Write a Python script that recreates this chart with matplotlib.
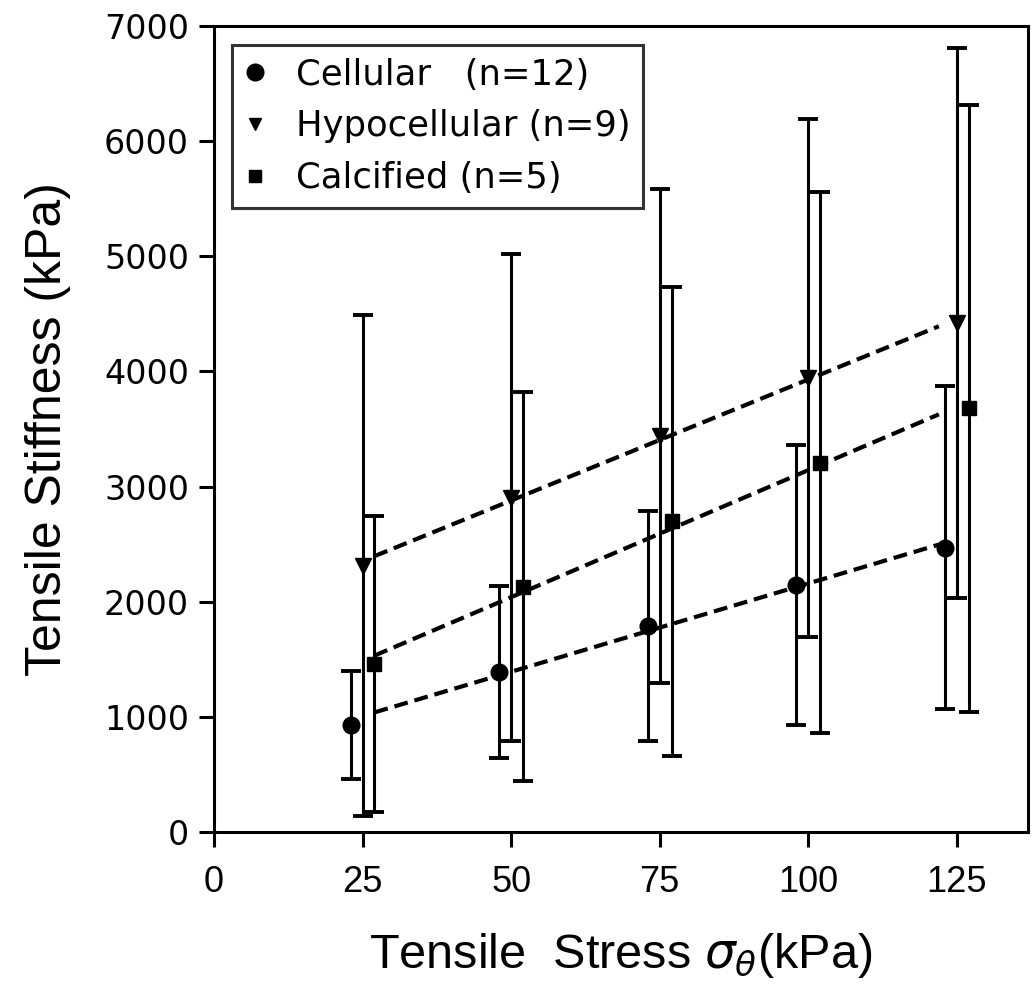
import numpy as np
import matplotlib.pyplot as plt
from matplotlib.lines import Line2D

# tensile stress (kPa) for each group, offset slightly so the bars do not overlap
stress_cellular = [23, 48, 73, 98, 123]
stress_hypo = [25, 50, 75, 100, 125]
stress_calcified = [27, 52, 77, 102, 127]

# tensile stiffness (kPa): mean and standard deviation
stiff_cellular = [930, 1390, 1788, 2145, 2470]
sd_cellular = [466, 751, 999, 1214, 1402]
stiff_hypo = [2313, 2905, 3440, 3945, 4420]
sd_hypo = [2178, 2118, 2146, 2247, 2390]
stiff_calcified = [1460, 2132, 2697, 3206, 3680]
sd_calcified = [1282, 1691, 2034, 2349, 2637]

labels = ['Cellular   (n=12)', 'Hypocellular (n=9)', 'Calcified (n=5)']
x_ticks = [0, 25, 50, 75, 100, 125]
y_ticks = [0, 1000, 2000, 3000, 4000, 5000, 6000, 7000]
fit_span = [27, 122]

plt.rcParams['lines.scale_dashes'] = False

fig = plt.figure(figsize=(10.32, 9.93), dpi=100)
ax = fig.add_axes([0.2074, 0.1621, 0.7887, 0.8117])

groups = [
    (stress_cellular, stiff_cellular, sd_cellular, 'o', 12),
    (stress_hypo, stiff_hypo, sd_hypo, 'v', 11.5),
    (stress_calcified, stiff_calcified, sd_calcified, 's', 10),
]

for x, y, sd, mk, ms in groups:
    ax.errorbar(x, y, yerr=sd, fmt='none', ecolor='black', elinewidth=2.2,
                capsize=7, capthick=2.8, zorder=2)
    ax.plot(x, y, mk, color='black', ms=ms, zorder=4)
    # least-squares line through the group means
    k, b = np.polyfit(x, y, 1)
    xs = np.array(fit_span)
    ax.plot(xs, k * xs + b, color='black', lw=3, dashes=[10, 5], zorder=3)

ax.set_xlim(0, 137)
ax.set_ylim(0, 7000)
ax.set_xticks(x_ticks)
ax.set_yticks(y_ticks)
ax.set_xticklabels([str(t) for t in x_ticks], fontfamily='Liberation Sans', fontsize=26)
ax.set_yticklabels([str(t) for t in y_ticks], fontfamily='DejaVu Sans', fontsize=24)
ax.tick_params(axis='both', direction='out', length=11, width=2.2, colors='black')
ax.tick_params(axis='x', pad=13)
ax.tick_params(axis='y', pad=7)
for sp in ax.spines.values():
    sp.set_linewidth(2.2)

ax.set_ylabel('Tensile Stiffness (kPa)', fontfamily='Liberation Sans', fontsize=36, labelpad=24)
ax.set_xlabel(r'Tensile  Stress $\sigma_{\theta}$(kPa)', fontfamily='Liberation Sans',
              fontsize=35, labelpad=22)

handles = [
    Line2D([], [], ls='none', marker='o', color='black', ms=12),
    Line2D([], [], ls='none', marker='v', color='black', ms=9),
    Line2D([], [], ls='none', marker='s', color='black', ms=8),
]
leg = ax.legend(handles, labels, loc='upper left', bbox_to_anchor=(0.022, 0.976),
                prop={'family': 'DejaVu Sans', 'size': 25.5}, frameon=True, fancybox=False,
                edgecolor='black', borderaxespad=0, handlelength=0.6, handletextpad=0.85,
                labelspacing=0.5, borderpad=0.35)
leg.get_frame().set_linewidth(2.2)

fig.savefig('out.png', dpi=100)
